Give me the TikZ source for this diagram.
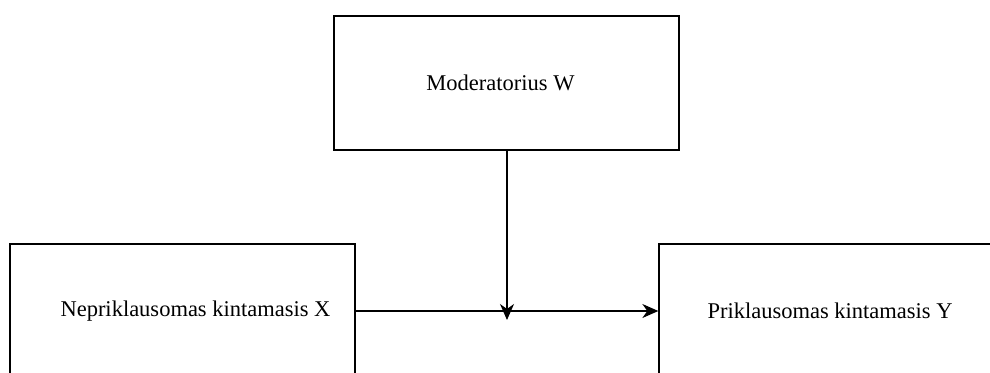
\documentclass[tikz,border=0pt]{standalone}
\usepackage{fontspec}
\setmainfont{Liberation Serif}
\usetikzlibrary{arrows.meta}
\begin{document}
\begin{tikzpicture}[x=1pt,y=-1pt,
  varbox/.style={draw=black, line width=1.3pt, minimum width=345pt, minimum height=134pt, inner sep=0pt, font=\fontsize{22.5}{27}\selectfont, text=black},
  conn/.style={line width=1.3pt, -{Stealth[length=16pt,width=14pt,inset=5pt]}}]
\useasboundingbox (0,0) rectangle (990,372);
\begin{scope}
\clip (0,0) rectangle (990,372);
\node[varbox] (w) at (506.5,83) {\hspace*{-12pt}Moderatorius W};
\node[varbox] (x) at (182.5,311) {\hspace*{26pt}Nepriklausomas kintamasis X};
\node[varbox] (y) at (831.5,311) {\hspace*{-3pt}Priklausomas kintamasis Y};
\coordinate (m) at (507,320);
\draw[conn] (x.east) -- (y.west);
\draw[conn] (w.south -| m) -- (m);
\end{scope}
\end{tikzpicture}
\end{document}
